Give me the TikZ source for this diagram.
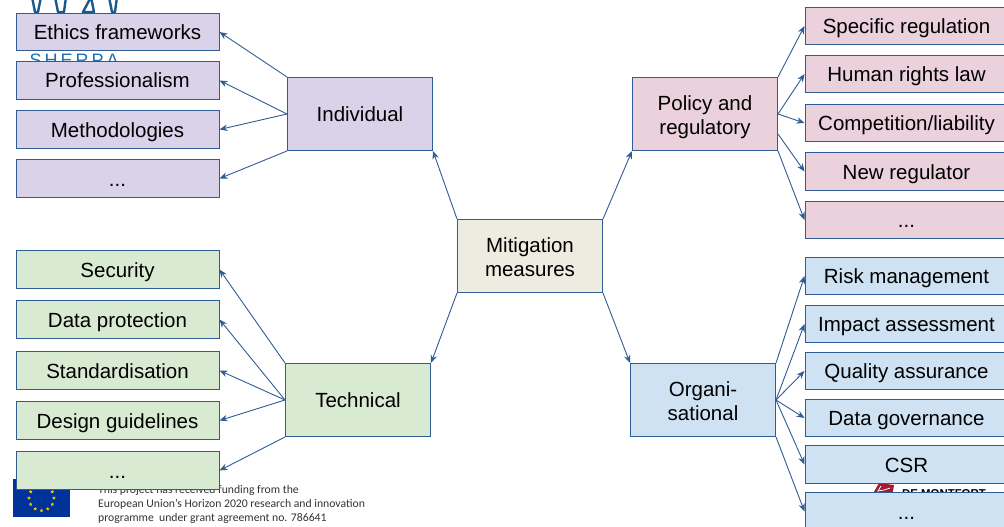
\documentclass[tikz,border=0pt]{standalone}
\usepackage{fontspec}
\setmainfont{Liberation Sans}
\newfontfamily\footfont{Carlito}
\usetikzlibrary{arrows.meta}
\definecolor{edgeblue}{HTML}{2F5C94}
\definecolor{purplefill}{HTML}{D9D2E9}
\definecolor{pinkfill}{HTML}{EAD1DC}
\definecolor{greenfill}{HTML}{D9EAD3}
\definecolor{bluefill}{HTML}{CFE2F3}
\definecolor{centerfill}{HTML}{EEECE1}
\definecolor{eublue}{HTML}{003399}
\definecolor{eustar}{HTML}{FFCC00}
\definecolor{logoblue}{HTML}{1F6FB0}
\definecolor{dmured}{HTML}{A6192E}
\newcommand\lowerline[1]{\smash{\raisebox{-11pt}{#1}}}
\tikzset{x=1pt,y=-1pt,
 labeltext/.style={font=\fontsize{20.5}{24}\selectfont,align=center,inner sep=0pt,anchor=center,
   execute at begin node={\rule{0pt}{20pt}},execute at end node={\rule[-5pt]{0pt}{5pt}}},
 box/.style={labeltext,draw=edgeblue,line width=1pt,minimum width=203pt,minimum height=37.5pt},
 hub/.style={labeltext,draw=edgeblue,line width=1pt,minimum width=145pt,minimum height=73pt},
 link/.style={draw=edgeblue,line width=0.9pt,-{Stealth[length=8pt,width=6.5pt]}},
 foot/.style={font=\footfont\fontsize{11.7}{14}\selectfont,anchor=west,inner sep=0pt,text=black!80},
 lamp/.style={draw=logoblue!80!black,line width=2.4pt,fill=white,line join=round}}
\begin{document}
\begin{tikzpicture}
\useasboundingbox (0,0) rectangle (1004,527);
% logos behind the boxes
\begin{scope}
\clip (0,0) rectangle (1004,527);
\draw[lamp] (32,-3) -- (41,-3) -- (38,12) -- (35,12) -- cycle;
\draw[lamp] (55,-3) -- (66,-3) -- (64,12) -- (58,12) -- cycle;
\draw[lamp] (91,-3) -- (83,12) -- (94,12) -- cycle;
\draw[lamp] (109,-3) -- (117,-3) -- (115,12) -- (112,12) -- cycle;
\node[anchor=west,inner sep=0pt,text=logoblue,font=\fontsize{18}{22}\selectfont] (sherpa) at (29.5,60) {S\kern3pt H\kern3pt E\kern3pt R\kern3pt P\kern3pt A};
\fill[eublue] (13,479) rectangle (70,517);
\foreach \a in {0,30,...,330}
  \fill[eustar] ({41.5+12.5*cos(\a)},{498+12.5*sin(\a)}) ++(0,-1.8) -- ++(0.5,1.2) -- ++(1.3,0.1) -- ++(-1,0.8) -- ++(0.4,1.3) -- ++(-1.2,-0.7) -- ++(-1.2,0.7) -- ++(0.4,-1.3) -- ++(-1,-0.8) -- ++(1.3,-0.1) -- cycle;
\fill[dmured] (879,483) -- (894,485) -- (892,497) -- (871,497) -- cycle;
\draw[white,line width=0.8pt] (881,486) -- (878,491) -- (884,490) -- (890,488);
\node[anchor=west,inner sep=0pt,font=\bfseries\fontsize{11.4}{14}\selectfont] (dmu) at (902,494) {DE MONTFORT};
\end{scope}
\node[foot] (f1) at (98,490.5) {This project has received funding from the};
\node[foot] (f2) at (98,504.5) {European Union’s Horizon 2020 research and innovation};
\node[foot] (f3) at (98,518.5) {programme\ \ under grant agreement no. 786641};
% left, purple
\node[box,fill=purplefill] (a1) at (117.5,32) {Ethics frameworks};
\node[box,fill=purplefill] (a2) at (117.5,80.5) {Professionalism};
\node[box,fill=purplefill] (a3) at (117.5,129.5) {Methodologies};
\node[box,fill=purplefill] (a4) at (117.5,178.5) {...};
% left, green
\node[box,fill=greenfill] (b1) at (117.5,269.5) {Security};
\node[box,fill=greenfill] (b2) at (117.5,319.5) {Data protection};
\node[box,fill=greenfill] (b3) at (117.5,370.5) {Standardisation};
\node[box,fill=greenfill] (b4) at (117.5,420.5) {Design guidelines};
\node[box,fill=greenfill] (b5) at (117.5,470.5) {...};
% right, pink
\node[box,fill=pinkfill] (c1) at (906.5,26) {Specific regulation};
\node[box,fill=pinkfill] (c2) at (906.5,74) {Human rights law};
\node[box,fill=pinkfill] (c3) at (906.5,123) {Competition/liability};
\node[box,fill=pinkfill] (c4) at (906.5,171.5) {New regulator};
\node[box,fill=pinkfill] (c5) at (906.5,220) {...};
% right, blue
\node[box,fill=bluefill] (d1) at (906.5,276) {Risk management};
\node[box,fill=bluefill] (d2) at (906.5,324) {Impact assessment};
\node[box,fill=bluefill] (d3) at (906.5,371) {Quality assurance};
\node[box,fill=bluefill] (d4) at (906.5,418) {Data governance};
\node[box,fill=bluefill] (d5) at (906.5,464.5) {CSR};
\node[box,fill=bluefill] (d6) at (906.5,511.5) {...};
% hubs
\node[hub,fill=centerfill] (m) at (530,256) {\lowerline{Mitigation}\\\lowerline{measures}};
\node[hub,fill=purplefill] (ind) at (360,114) {Individual};
\node[hub,fill=pinkfill] (pol) at (705,114) {\lowerline{Policy and}\\\lowerline{regulatory}};
\node[hub,fill=greenfill] (tec) at (358,400) {Technical};
\node[hub,fill=bluefill] (org) at (703,400) {\lowerline{Organi-}\\\lowerline{sational}};
% connectors
\draw[link] (m.north west) -- (ind.south east);
\draw[link] (m.north east) -- (pol.south west);
\draw[link] (m.south west) -- (tec.north east);
\draw[link] (m.south east) -- (org.north west);
\draw[link] (ind.north west) -- (a1.east);
\draw[link] (ind.west) -- (a2.east);
\draw[link] (ind.west) -- (a3.east);
\draw[link] (ind.south west) -- (a4.east);
\draw[link] (tec.north west) -- (b1.east);
\draw[link] (tec.west) -- (b2.east);
\draw[link] (tec.west) -- (b3.east);
\draw[link] (tec.west) -- (b4.east);
\draw[link] (tec.south west) -- (b5.east);
\draw[link] (pol.north east) -- (c1.west);
\draw[link] (pol.east) -- (c2.west);
\draw[link] (pol.east) -- (c3.west);
\draw[link] ([yshift=-20pt]pol.east) -- (c4.west);
\draw[link] (pol.south east) -- (c5.west);
\draw[link] (org.north east) -- (d1.west);
\draw[link] (org.east) -- (d2.west);
\draw[link] (org.east) -- (d3.west);
\draw[link] (org.east) -- (d4.west);
\draw[link] (org.east) -- (d5.west);
\draw[link] (org.south east) -- (d6.west);
\end{tikzpicture}
\end{document}
